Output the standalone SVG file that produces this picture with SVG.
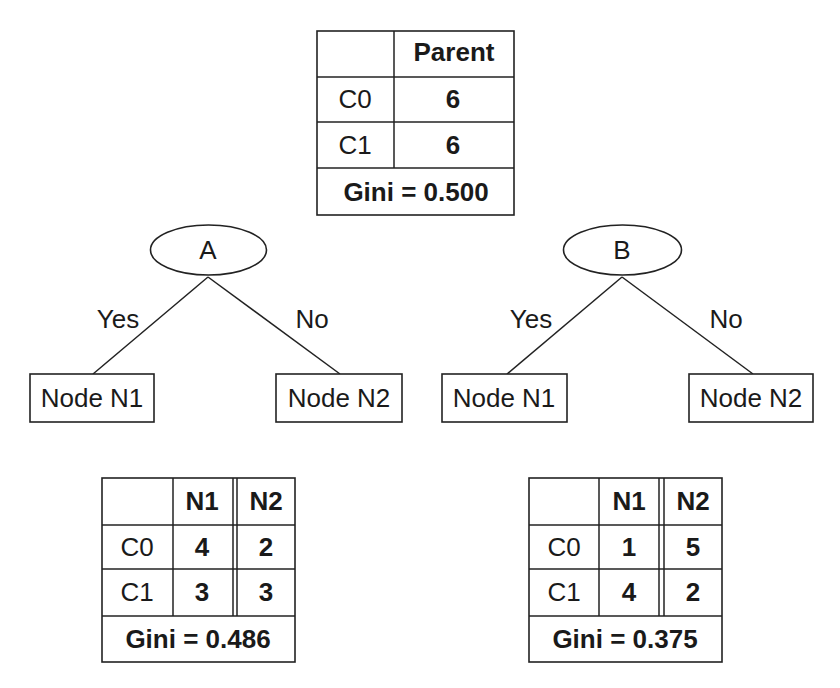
<svg xmlns="http://www.w3.org/2000/svg" width="840" height="688" viewBox="0 0 840 688">
<style>
text{font-family:"Liberation Sans",Arial,sans-serif;font-size:26px;fill:#1a1a1a;text-anchor:middle}
.b{font-weight:bold}
.box{fill:#fff;stroke:#222;stroke-width:1.6}
.ln{stroke:#222;stroke-width:1.5;fill:none}
</style>
<rect width="840" height="688" fill="#fff"/>
<g id="parent-table">
<rect class="box" x="317" y="31" width="197" height="184"/>
<line class="ln" x1="394" y1="31" x2="394" y2="168"/>
<line class="ln" x1="317" y1="77" x2="514" y2="77"/>
<line class="ln" x1="317" y1="122" x2="514" y2="122"/>
<line class="ln" x1="317" y1="168" x2="514" y2="168"/>
<text class="b" x="454" y="61">Parent</text>
<text x="355" y="108">C0</text>
<text class="b" x="453" y="108">6</text>
<text x="355" y="154">C1</text>
<text class="b" x="453" y="154">6</text>
<text class="b" x="416" y="201">Gini = 0.500</text>
</g>
<g id="connectors">
<line class="ln" x1="208" y1="277" x2="93" y2="374"/>
<line class="ln" x1="208" y1="277" x2="340" y2="374"/>
<line class="ln" x1="622" y1="277" x2="507" y2="374"/>
<line class="ln" x1="622" y1="277" x2="753" y2="374"/>
<text x="118" y="328">Yes</text>
<text x="312" y="328">No</text>
<text x="531" y="328">Yes</text>
<text x="726" y="328">No</text>
</g>
<g id="node-A">
<ellipse class="box" cx="208.5" cy="250" rx="58" ry="25"/>
<text x="208" y="259">A</text>
</g>
<g id="node-B">
<ellipse class="box" cx="622.5" cy="250" rx="59" ry="25"/>
<text x="622" y="259">B</text>
</g>
<g id="A-N1">
<rect class="box" x="30" y="374" width="124" height="48"/>
<text x="92" y="407">Node N1</text>
</g>
<g id="A-N2">
<rect class="box" x="276" y="374" width="126" height="48"/>
<text x="339" y="407">Node N2</text>
</g>
<g id="B-N1">
<rect class="box" x="442" y="374" width="125" height="48"/>
<text x="504" y="407">Node N1</text>
</g>
<g id="B-N2">
<rect class="box" x="689" y="374" width="124" height="48"/>
<text x="751" y="407">Node N2</text>
</g>
<g id="table-A">
<rect class="box" x="102" y="478" width="193" height="184"/>
<line class="ln" x1="173" y1="478" x2="173" y2="616"/>
<line class="ln" x1="233" y1="478" x2="233" y2="616"/>
<line class="ln" x1="237" y1="478" x2="237" y2="616"/>
<line class="ln" x1="102" y1="525" x2="295" y2="525"/>
<line class="ln" x1="102" y1="569" x2="295" y2="569"/>
<line class="ln" x1="102" y1="616" x2="295" y2="616"/>
<text class="b" x="202" y="510">N1</text>
<text class="b" x="266" y="510">N2</text>
<text x="137" y="556">C0</text>
<text class="b" x="202" y="556">4</text>
<text class="b" x="266" y="556">2</text>
<text x="137" y="601">C1</text>
<text class="b" x="202" y="601">3</text>
<text class="b" x="266" y="601">3</text>
<text class="b" x="198" y="648">Gini = 0.486</text>
</g>
<g id="table-B">
<rect class="box" x="529" y="478" width="193" height="184"/>
<line class="ln" x1="599" y1="478" x2="599" y2="616"/>
<line class="ln" x1="659" y1="478" x2="659" y2="616"/>
<line class="ln" x1="664" y1="478" x2="664" y2="616"/>
<line class="ln" x1="529" y1="525" x2="722" y2="525"/>
<line class="ln" x1="529" y1="569" x2="722" y2="569"/>
<line class="ln" x1="529" y1="616" x2="722" y2="616"/>
<text class="b" x="629" y="510">N1</text>
<text class="b" x="693" y="510">N2</text>
<text x="564" y="556">C0</text>
<text class="b" x="629" y="556">1</text>
<text class="b" x="693" y="556">5</text>
<text x="564" y="601">C1</text>
<text class="b" x="629" y="601">4</text>
<text class="b" x="693" y="601">2</text>
<text class="b" x="625" y="648">Gini = 0.375</text>
</g>
</svg>
